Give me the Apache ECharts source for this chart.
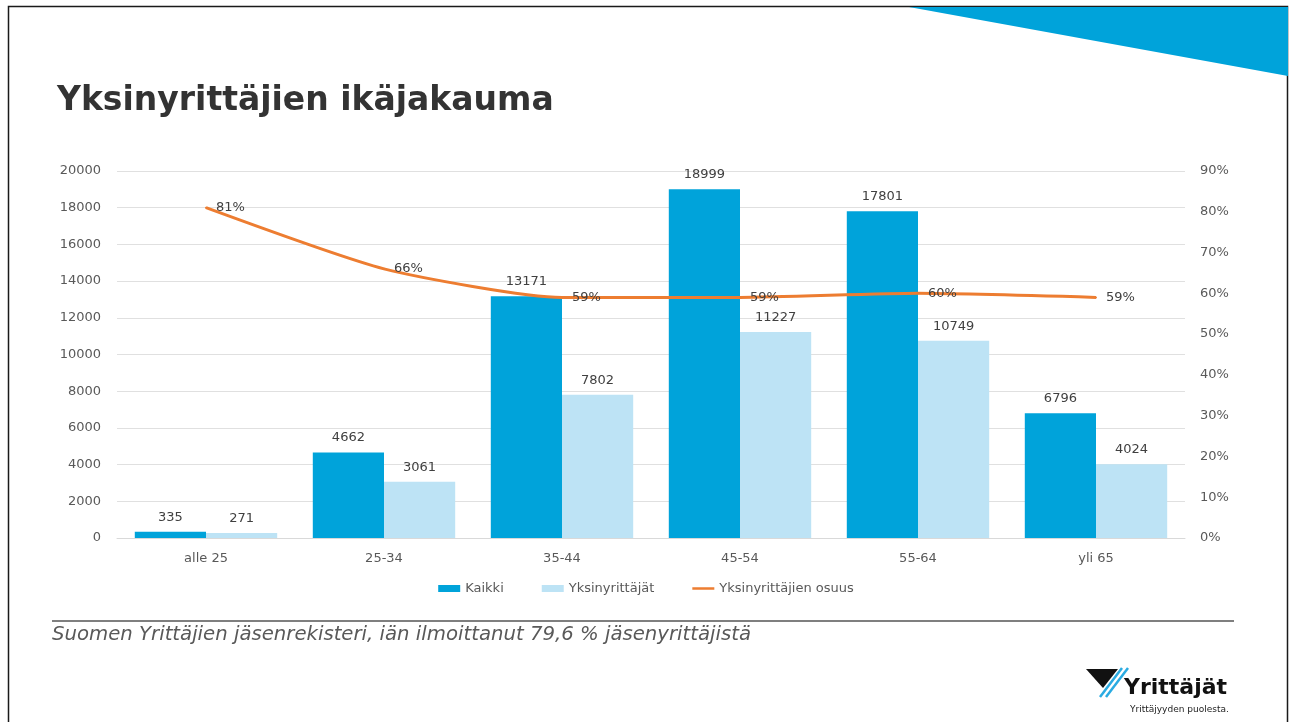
<!DOCTYPE html>
<html lang="fi">
<head>
    <meta charset="UTF-8">
    <title>Yksinyrittäjien ikäjakauma</title>
    <script src="https://cdn.jsdelivr.net/npm/echarts@6/dist/echarts.min.js"></script>
    <style>
        html, body { margin: 0; padding: 0; background: #ffffff; }
        #chart { width: 1292px; height: 722px; }
    </style>
</head>
<body>
    <div id="chart"></div>
    <script>
        // age groups and member counts
        const ageGroups = ['alle 25', '25-34', '35-44', '45-54', '55-64', 'yli 65'];
        const kaikki = [335, 4662, 13171, 18999, 17801, 6796];
        const yksin = [271, 3061, 7802, 11227, 10749, 4024];
        // share of sole entrepreneurs (fraction)
        const osuus = [0.81, 0.66, 0.59, 0.59, 0.60, 0.59];

        const textGrey = '#595959';
        const font = '"DejaVu Sans", Verdana, sans-serif';

        let option = {
            backgroundColor: '#ffffff',
            textStyle: { fontFamily: font },
            title: {
                text: 'Yksinyrittäjien ikäjakauma',
                left: 52,
                top: 80,
                textStyle: { fontSize: 33, fontWeight: 'bold', color: '#333333', fontFamily: font }
            },
            legend: {
                top: 577,
                left: 'center',
                itemGap: 38,
                itemWidth: 22,
                itemHeight: 7,
                textStyle: { color: textGrey, fontSize: 13, fontFamily: font },
                data: [
                    { name: 'Kaikki', icon: 'rect' },
                    { name: 'Yksinyrittäjät', icon: 'rect' },
                    { name: 'Yksinyrittäjien osuus', icon: 'path://M0,0 L22,0 L22,2.5 L0,2.5 Z' }
                ]
            },
            grid: {
                left: 117,
                right: 107,
                top: 171,
                bottom: 184
            },
            xAxis: {
                type: 'category',
                data: ageGroups,
                axisLine: { lineStyle: { color: '#d9d9d9' } },
                axisTick: { show: false },
                axisLabel: { color: textGrey, fontSize: 13, margin: 14 }
            },
            yAxis: [
                {
                    type: 'value',
                    min: 0,
                    max: 20000,
                    interval: 2000,
                    axisLine: { show: false },
                    axisTick: { show: false },
                    axisLabel: { color: textGrey, fontSize: 13, margin: 16, formatter: v => String(v) },
                    splitLine: { lineStyle: { color: '#e0e0e0' } }
                },
                {
                    type: 'value',
                    min: 0,
                    max: 0.9,
                    interval: 0.1,
                    axisLine: { show: false },
                    axisTick: { show: false },
                    splitLine: { show: false },
                    axisLabel: {
                        color: textGrey,
                        fontSize: 13,
                        margin: 15,
                        formatter: v => Math.round(v * 100) + '%'
                    }
                }
            ],
            series: [
                {
                    name: 'Kaikki',
                    type: 'bar',
                    data: kaikki,
                    barGap: '0%',
                    barCategoryGap: '20%',
                    itemStyle: { color: '#00a3da' },
                    label: { show: true, position: 'top', color: '#404040', fontSize: 13, distance: 8 }
                },
                {
                    name: 'Yksinyrittäjät',
                    type: 'bar',
                    data: yksin,
                    itemStyle: { color: '#bde3f5' },
                    label: { show: true, position: 'top', color: '#404040', fontSize: 13, distance: 8 }
                },
                {
                    name: 'Yksinyrittäjien osuus',
                    type: 'line',
                    yAxisIndex: 1,
                    data: osuus,
                    smooth: 0.2,
                    symbol: 'circle',
                    symbolSize: 2,
                    lineStyle: { color: '#ed7d31', width: 3 },
                    itemStyle: { color: '#ed7d31' },
                    label: {
                        show: true,
                        position: 'right',
                        distance: 9,
                        color: '#404040',
                        fontSize: 13,
                        formatter: p => Math.round(p.value * 100) + '%'
                    },
                    z: 5
                }
            ],
            graphic: [
                // slide frame
                {
                    type: 'rect',
                    shape: { x: 8.5, y: 6.5, width: 1279, height: 730 },
                    style: { fill: 'none', stroke: '#1a1a1a', lineWidth: 1.5 },
                    silent: true
                },
                // blue corner wedge
                {
                    type: 'polygon',
                    shape: { points: [[909, 7], [1288, 7], [1288, 76]] },
                    style: { fill: '#00a3da' },
                    silent: true
                },
                // divider above source note
                {
                    type: 'line',
                    shape: { x1: 52, y1: 621, x2: 1234, y2: 621 },
                    style: { stroke: '#7f7f7f', lineWidth: 2 },
                    silent: true
                },
                {
                    type: 'text',
                    left: 52,
                    top: 625,
                    style: {
                        text: 'Suomen Yrittäjien jäsenrekisteri, iän ilmoittanut 79,6 % jäsenyrittäjistä',
                        fill: '#595959',
                        font: 'italic 19.7px ' + font
                    }
                },
                // logo
                {
                    type: 'polygon',
                    shape: { points: [[1086, 669], [1118, 669], [1103, 688]] },
                    style: { fill: '#111111' },
                    silent: true
                },
                {
                    type: 'line',
                    shape: { x1: 1122, y1: 668, x2: 1100, y2: 697 },
                    style: { stroke: '#29abe2', lineWidth: 2.5 },
                    silent: true
                },
                {
                    type: 'line',
                    shape: { x1: 1128, y1: 668, x2: 1106, y2: 697 },
                    style: { stroke: '#29abe2', lineWidth: 2.5 },
                    silent: true
                },
                {
                    type: 'text',
                    left: 1124,
                    top: 677,
                    style: { text: 'Yrittäjät', fill: '#111111', font: 'bold 22px ' + font }
                },
                {
                    type: 'text',
                    left: 1130,
                    top: 705,
                    style: { text: 'Yrittäjyyden puolesta.', fill: '#222222', font: '9px ' + font }
                }
            ]
        };

        let chart = echarts.init(document.getElementById('chart'));
        chart.setOption(option);
    </script>
</body>
</html>
